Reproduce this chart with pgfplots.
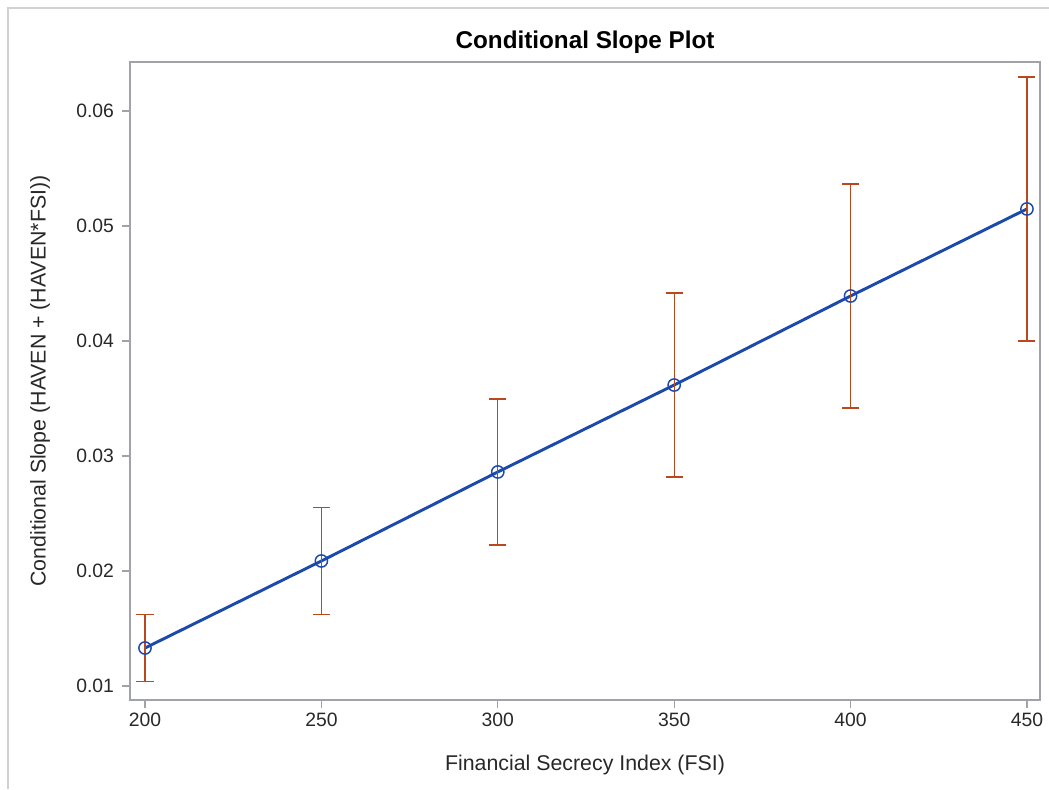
\documentclass[border=0pt]{standalone}
\usepackage{fontspec}
\setmainfont{Liberation Sans}
\usepackage{pgfplots}
\pgfplotsset{compat=1.18}
\definecolor{fitblue}{RGB}{28,74,172}
\definecolor{errred}{RGB}{184,72,30}
\definecolor{framegray}{RGB}{160,164,168}
\definecolor{txt}{RGB}{40,40,40}
\begin{document}
\begin{tikzpicture}
\useasboundingbox (-97.5pt,-66.75pt) rectangle (689.25pt,525pt);
\draw[gray!35,line width=0.9pt] (-91.5pt,-66.75pt) -- (-91.5pt,519pt) -- (689.25pt,519pt);
\begin{axis}[scale only axis,width=682.5pt,height=478.5pt,
  at={(0,0)},anchor=south west,
  xmin=195.75,xmax=453.7,ymin=0.00878,ymax=0.06426,
  xtick={200,250,300,350,400,450},
  ytick={0.01,0.02,0.03,0.04,0.05,0.06},
  xtick pos=left,ytick pos=left,tick align=outside,
  major tick length=6pt,
  axis line style={framegray,line width=0.9pt},
  tick style={framegray,line width=0.9pt},
  ticklabel style={font=\fontsize{14.5}{16}\selectfont,text=txt},
  /pgf/number format/assume math mode=true,
  yticklabel style={xshift=-2.5pt,/pgf/number format/.cd,fixed,precision=2,zerofill},
  xticklabel style={/pgf/number format/.cd,set thousands separator={}},
  scaled y ticks=false,
  clip=false]
\addplot[fitblue,line width=2.2pt,mark=o,
  mark options={line width=1.1pt,mark size=4.6pt,fill=none},
  error bars/.cd,y dir=both,y explicit,
  error bar style={errred,line width=1pt},
  error mark options={errred,line width=1pt,mark size=6.4pt,rotate=90}]
  coordinates {
  (200,0.01330) +- (0,0.00290)
  (250,0.02087) +- (0,0.00465)
  (300,0.02861) +- (0,0.00635)
  (350,0.03617) +- (0,0.00800)
  (400,0.04391) +- (0,0.00975)
  (450,0.05148) +- (0,0.01148)
  };
\end{axis}
\node[font=\bfseries\fontsize{18.2}{20}\selectfont,text=black] at (341.25pt,493pt) {Conditional Slope Plot};
\node[font=\fontsize{16}{18}\selectfont,text=txt] at (341.25pt,-48.75pt) {Financial Secrecy Index (FSI)};
\node[font=\fontsize{16}{18}\selectfont,text=txt,rotate=90] at (-67.5pt,239.25pt) {Conditional Slope (HAVEN + (HAVEN*FSI))};
\end{tikzpicture}
\end{document}
